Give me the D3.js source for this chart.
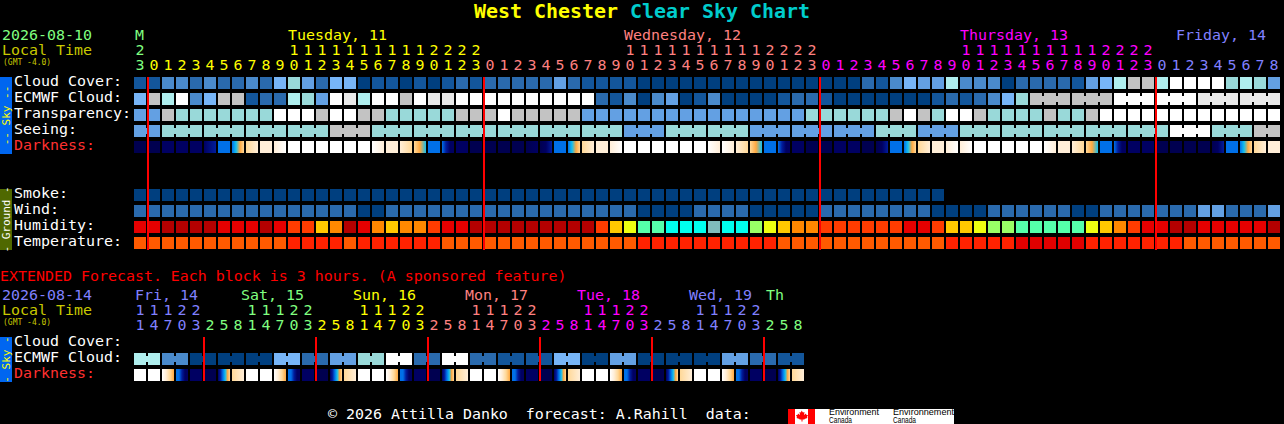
<!DOCTYPE html>
<html>
<head>
<meta charset="utf-8">
<script src="https://cdnjs.cloudflare.com/ajax/libs/d3/7.8.5/d3.min.js"></script>
<style>
html, body { margin: 0; padding: 0; background: #000; overflow: hidden; }
svg { display: block; }
text { font-family: "DejaVu Sans Mono", monospace; font-size: 14.95px; white-space: pre; }
</style>
</head>
<body>
<svg></svg>
<script>
// main forecast, one value per hour
const hours = [23,0,1,2,3,4,5,6,7,8,9,10,11,12,13,14,15,16,17,18,19,20,21,22,23,
    0,1,2,3,4,5,6,7,8,9,10,11,12,13,14,15,16,17,18,19,20,21,22,23,
    0,1,2,3,4,5,6,7,8,9,10,11,12,13,14,15,16,17,18,19,20,21,22,23,
    0,1,2,3,4,5,6,7,8];
const cloudCover = [10,10,30,30,20,30,20,20,30,20,50,60,40,20,50,50,0,10,10,0,10,
    0,10,20,10,20,20,20,20,20,40,20,10,10,10,10,0,0,0,0,0,0,0,0,0,0,0,0,0,0,0,0,
    20,10,30,50,40,40,70,30,30,30,0,20,20,20,20,10,40,50,70,80,80,70,100,100,100,100,60,70,60,40];
const ecmwfCloud = [50,80,70,100,30,50,80,80,10,20,20,70,60,40,100,90,70,100,100,80,100,
    90,90,100,100,100,100,100,100,100,100,100,100,20,10,30,0,30,40,0,10,30,0,0,0,0,10,20,20,10,0,0,
    0,0,0,0,0,10,20,10,20,30,50,60,80,80,80,80,80,80,100,100,100,100,100,100,90,90,90,90,90,90];
const transparency = [4,4,8,6,6,6,6,6,6,6,10,10,10,8,10,10,8,8,6,6,6,
    6,6,8,8,8,10,8,8,8,8,8,4,4,4,4,4,4,4,4,4,4,4,4,4,4,4,4,6,6,6,6,
    6,6,8,10,8,6,10,10,8,6,6,6,6,8,6,6,8,10,10,10,10,10,10,10,10,10,10,10,10,10];
const seeing = [4,4,6,6,6,6,6,6,6,6,6,6,6,6,8,8,8,6,6,6,6,6,6,6,6,6,6,6,6,6,6,6,6,6,6,
    4,4,4,6,6,6,6,6,6,4,4,4,4,4,4,4,4,4,6,6,6,4,4,4,6,6,6,6,6,6,6,6,6,6,6,6,6,6,6,
    10,10,10,6,6,6,8,8];
const darkness = ["0","0","1","1","1","12","3","3456","67","7","78","8","8","8","8","8","8","87","7","76","654",
    "3","3211","1","0","0","0","0","01","012","3","3456","67","7","78","8","8","8","8","8","8","87","87","76","654","3","3211","1","0","0","1","1",
    "0","012","3","3456","67","7","78","78","8","8","8","8","8","87","7","76","654","3","3211","1","1","0","0","0","0",
    "012","3","3456","67","7"];
const smoke = d3.range(58).map(() => 0);
const wind = [2,2,2,2,2,2,2,2,2,2,2,2,2,2,2,2,0,0,2,2,2,2,2,2,2,2,2,2,2,2,2,2,2,2,2,2,
    0,0,0,0,2,2,2,2,0,0,0,0,0,2,2,2,2,2,2,2,2,0,0,0,0,2,2,2,2,2,2,0,0,2,2,2,2,2,2,2,4,4,2,2,2,4];
const humidity = ["b","b","a","a","a","a","b","b","b","a","b","c","c","e","d","a","b","d","e","d","d",
    "c","b","b","a","a","a","a","a","a","a","a","a","c","e","f","h","h","i","i","i","j","i","i","g","f","e","d","d","c","c","c",
    "c","c","c","b","b","c","e","e","f","g","g","h","h","h","h","h","f","e","d","c","b","b","a","a","b","b","b","b","b","a"];
const temperature = ["o","o","o","o","o","o","o","o","o","o","o","r","r","r","r","o","r","r","r","r","r",
    "r","o","o","o","o","o","o","o","o","o","o","o","o","o","o","r","r","r","r","r","r","r","r","r","r","o","o","o","o","o","o",
    "o","o","o","o","o","o","r","r","r","r","r","d","d","d","d","d","r","r","r","r","r","r","r","o","o","o","o","o","o","o"];

// extended forecast, one value per 3 hours
const extHours = [11,14,17,20,23,2,5,8,11,14,17,20,23,2,5,8,11,14,17,20,23,2,5,8,
    11,14,17,20,23,2,5,8,11,14,17,20,23,2,5,8,11,14,17,20,23,2,5,8];
const extEcmwf = [70,70,30,30,0,0,0,0,0,0,50,50,20,20,40,40,60,60,100,100,20,20,100,100,
    20,20,10,10,10,10,50,50,0,0,40,40,0,0,0,0,0,0,40,40,20,20,10,10];
const extDarkness = ["8","8","8765","33211","1","0","123456","67","8","8","8765","33211","1","0","123456","67",
    "8","8","8765","33211","1","0","123456","67","8","8","8765","33211","1","0","123456","67",
    "8","8","8765","33211","1","0","123456","67","8","8","8765","33211","1","0","123456","67"];

// day headings: name, column of the name, first column of its colour
const dayNames = ["Tuesday, 11","Wednesday, 12","Thursday, 13","Friday, 14"];
const dayNameCols = [11,35,59,74.43];
const dayStarts = [1,25,49,73];
const extDayNames = ["Fri, 14","Sat, 15","Sun, 16","Mon, 17","Tue, 18","Wed, 19","Th"];
const extDayNameCols = [0,7.57,15.57,23.57,31.57,39.57,45.07];
const extDayStarts = [5,13,21,29,37,45];

const skyRows = ["Cloud Cover:","ECMWF Cloud:","Transparency:","Seeing:","Darkness:"];
const groundRows = ["Smoke:","Wind:","Humidity:","Temperature:"];
const extRows = ["Cloud Cover:","ECMWF Cloud:","Darkness:"];

const cloudLevels = [0,10,20,30,40,50,60,70,80,90,100];
const cloudColours = ["#003f7f","#13569b","#2a6aad","#4a8acb","#63a0e3","#77b5f7","#99d9d9","#afeeee","#c3c3c3","#e9e9e9","#ffffff"];
const windColours = ["#003f7f","#2a6aad","#63a0e3"];
const humidityColours = ["#b40000","#e60000","#ff3c00","#ff8800","#ffc800","#eeff11","#99ff66","#55ffaa","#00ffee","#80bcbc"];
const temperatureColours = ["#ff5a00","#ff2200","#e00000"];
const darkColours = ["#000050","#000062","#001c9c","#0070e8","#12c0f0","#ffa840","#ffd898","#ffeed8","#ffffff"];

const dayColours = ["#ffff00","#ff8080","#ff00ff","#8080ff"];
const extDayColours = ["#8080ff","#80ff80","#ffff00","#ff8080","#ff00ff","#8080ff","#80ff80"];

const cloudScale = d3.scaleOrdinal(cloudLevels, cloudColours);
const windScale = d3.scaleOrdinal([0,2,4], windColours);
const humidityScale = d3.scaleOrdinal(["a","b","c","d","e","f","g","h","i","j"], humidityColours);
const temperatureScale = d3.scaleOrdinal(["o","r","d"], temperatureColours);
const darkScale = d3.scaleOrdinal(d3.range(9).map(String), darkColours);

const size = {w: 1284, h: 424};
const svg = d3.select('svg')
    .attr('width', size.w)
    .attr('height', size.h);
const defs = svg.append('defs');

const scaleX = d3.scaleBand()
    .domain(d3.range(82))
    .range([134, 134 + 14*82 - 2])
    .paddingInner(2/14);

const skyY = d3.scaleBand().domain(skyRows).range([77, 77 + 16*5 - 4]).paddingInner(4/16);
const groundY = d3.scaleBand().domain(groundRows).range([189, 189 + 16*4 - 4]).paddingInner(4/16);
const extY = d3.scaleBand().domain(extRows).range([337, 337 + 16*3 - 4]).paddingInner(4/16);

function label(x, y, txt, fill) {
    return svg.append('text')
        .attr('x', x)
        .attr('y', y)
        .attr('fill', fill)
        .text(txt);
}

function drawCells(values, y, colour) {
    svg.append('g').selectAll('rect')
        .data(values)
        .join('rect')
        .attr('x', (d, i) => scaleX(i))
        .attr('y', y)
        .attr('width', scaleX.bandwidth())
        .attr('height', 12)
        .attr('fill', colour);
}

// blocks longer than one step are tied together by a bridge over the gap
function drawBridges(values, y, colour, joined) {
    svg.append('g').selectAll('rect')
        .data(values.map((d, i) => ({d, i})).filter(c => joined(c.i) && c.i < values.length - 1))
        .join('rect')
        .attr('x', c => scaleX(c.i) + scaleX.bandwidth())
        .attr('y', y + 3)
        .attr('width', 2)
        .attr('height', 6)
        .attr('fill', c => colour(c.d));
}

function darkFill(code) {
    if (code.length === 1) return darkScale(code);
    const id = 'dark' + code;
    if (defs.select('#' + id).empty()) {
        defs.append('linearGradient')
            .attr('id', id)
            .selectAll('stop')
            .data(code.split(''))
            .join('stop')
            .attr('offset', (d, i) => i / (code.length - 1))
            .attr('stop-color', d => darkScale(d));
    }
    return `url(#${id})`;
}

function drawHours(values, startCols, colours, y1, y2, firstColour) {
    const colourOf = i => {
        let c = firstColour;
        startCols.forEach((s, k) => { if (i >= s) c = colours[k]; });
        return c;
    };
    svg.append('g').selectAll('text')
        .data(values)
        .join('text')
        .attr('x', (d, i) => scaleX(i) + scaleX.bandwidth()/2)
        .attr('y', y2)
        .attr('text-anchor', 'middle')
        .attr('fill', (d, i) => colourOf(i))
        .text(d => d % 10);
    svg.append('g').selectAll('text')
        .data(values.map((d, i) => ({d, i})).filter(c => c.d >= 10))
        .join('text')
        .attr('x', c => scaleX(c.i) + scaleX.bandwidth()/2)
        .attr('y', y1)
        .attr('text-anchor', 'middle')
        .attr('fill', c => colourOf(c.i))
        .text(c => Math.floor(c.d / 10));
}

function sideBar(y, h, fill, textFill, txt) {
    svg.append('rect')
        .attr('x', 0).attr('y', y).attr('width', 12).attr('height', h)
        .attr('fill', fill);
    svg.append('text')
        .attr('transform', `translate(10, ${y + h/2}) rotate(-90)`)
        .attr('text-anchor', 'middle')
        .attr('fill', textFill)
        .style('font-size', '11px')
        .text(txt);
}

// title
label(474, 18, 'West Chester', '#ffff00').style('font-size', '19.95px').style('font-weight', 'bold');
label(630, 18, 'Clear Sky Chart', '#00cccc').style('font-size', '19.95px').style('font-weight', 'bold');

// main header
label(2, 40, '2026-08-10', '#80ff80');
label(2, 55, 'Local Time', '#c8c800');
label(3, 65, '(GMT -4.0)', '#c8c800').style('font-size', '8px');
label(135, 40, 'M', '#80ff80');
dayNames.forEach((d, i) => label(scaleX(Math.floor(dayNameCols[i])) + (dayNameCols[i] % 1)*14, 40, d, dayColours[i]));
drawHours(hours, dayStarts, dayColours, 55, 70, '#80ff80');

// main rows
drawCells(cloudCover, skyY("Cloud Cover:"), d => cloudScale(d));
drawCells(ecmwfCloud, skyY("ECMWF Cloud:"), d => cloudScale(d));
drawBridges(ecmwfCloud, skyY("ECMWF Cloud:"), cloudScale, i => i >= 64 && i % 3 !== 0);
drawCells(transparency.map(d => d*10), skyY("Transparency:"), d => cloudScale(d));
drawCells(seeing.map(d => d*10), skyY("Seeing:"), d => cloudScale(d));
drawBridges(seeing.map(d => d*10), skyY("Seeing:"), cloudScale, i => i % 3 !== 1);
drawCells(darkness, skyY("Darkness:"), darkFill);

drawCells(smoke, groundY("Smoke:"), d => windScale(d));
drawCells(wind, groundY("Wind:"), d => windScale(d));
drawCells(humidity, groundY("Humidity:"), d => humidityScale(d));
drawCells(temperature, groundY("Temperature:"), d => temperatureScale(d));

skyRows.forEach(r => label(14, skyY(r) + 9, r, r === "Darkness:" ? '#ff3030' : '#ffffff'));
groundRows.forEach(r => label(14, groundY(r) + 9, r, '#ffffff'));

sideBar(77, 77, '#0066f0', '#ffff00', '-- Sky --');
sideBar(189, 61, '#4f6800', '#ffffff', '- Ground -');

// midnight lines
svg.append('g').selectAll('rect')
    .data(dayStarts)
    .join('rect')
    .attr('x', d => scaleX(d) - 1)
    .attr('y', 77)
    .attr('width', 2)
    .attr('height', 173)
    .attr('fill', '#ff0000');

// extended forecast
label(0, 281, 'EXTENDED Forecast. Each block is 3 hours. (A sponsored feature)', '#ff0000');
label(2, 300, '2026-08-14', '#8080ff');
label(2, 315, 'Local Time', '#c8c800');
label(3, 325, '(GMT -4.0)', '#c8c800').style('font-size', '8px');
extDayNames.forEach((d, i) => label(scaleX(Math.floor(extDayNameCols[i])) + (extDayNameCols[i] % 1)*14 + 1, 300, d, extDayColours[i]));
drawHours(extHours, extDayStarts, extDayColours.slice(1), 315, 330, extDayColours[0]);

drawCells(extEcmwf, extY("ECMWF Cloud:"), d => cloudScale(d));
drawBridges(extEcmwf, extY("ECMWF Cloud:"), cloudScale, i => i % 2 === 0);
drawCells(extDarkness, extY("Darkness:"), darkFill);
extRows.forEach(r => label(14, extY(r) + 9, r, r === "Darkness:" ? '#ff3030' : '#ffffff'));
sideBar(337, 45, '#0066f0', '#ffff00', '- Sky -');

svg.append('g').selectAll('rect')
    .data(extDayStarts)
    .join('rect')
    .attr('x', d => scaleX(d) - 1)
    .attr('y', 337)
    .attr('width', 2)
    .attr('height', 44)
    .attr('fill', '#ff0000');

// footer
label(328, 419, '© 2026 Attilla Danko  forecast: A.Rahill  data:', '#ffffff');
svg.append('rect').attr('x', 788).attr('y', 409).attr('width', 166).attr('height', 15).attr('fill', '#ffffff');
svg.append('rect').attr('x', 788).attr('y', 409).attr('width', 7).attr('height', 15).attr('fill', '#ff0000');
svg.append('rect').attr('x', 808).attr('y', 409).attr('width', 7).attr('height', 15).attr('fill', '#ff0000');
svg.append('path')
    .attr('d', 'M801.5 410.5l1.5 2 1.5-.5-.5 3 2-1.5.5 1.5 1.5 0-1 2 .5 1-3 1 0 .5-2 0 0 2-1 0 0-2-2 0 0-.5-3-1 .5-1-1-2 1.5 0 .5-1.5 2 1.5-.5-3 1.5.5z')
    .attr('fill', '#ff0000');
[['Environment', 829, 415, 50], ['Canada', 829, 423, 23], ['Environnement', 893, 415, 61], ['Canada', 893, 423, 23]].forEach(t => {
    svg.append('text')
        .attr('x', t[1]).attr('y', t[2])
        .attr('textLength', t[3])
        .attr('lengthAdjust', 'spacingAndGlyphs')
        .attr('fill', '#000000')
        .style('font-family', '"Liberation Sans", sans-serif')
        .style('font-size', '9px')
        .text(t[0]);
});
</script>
</body>
</html>
